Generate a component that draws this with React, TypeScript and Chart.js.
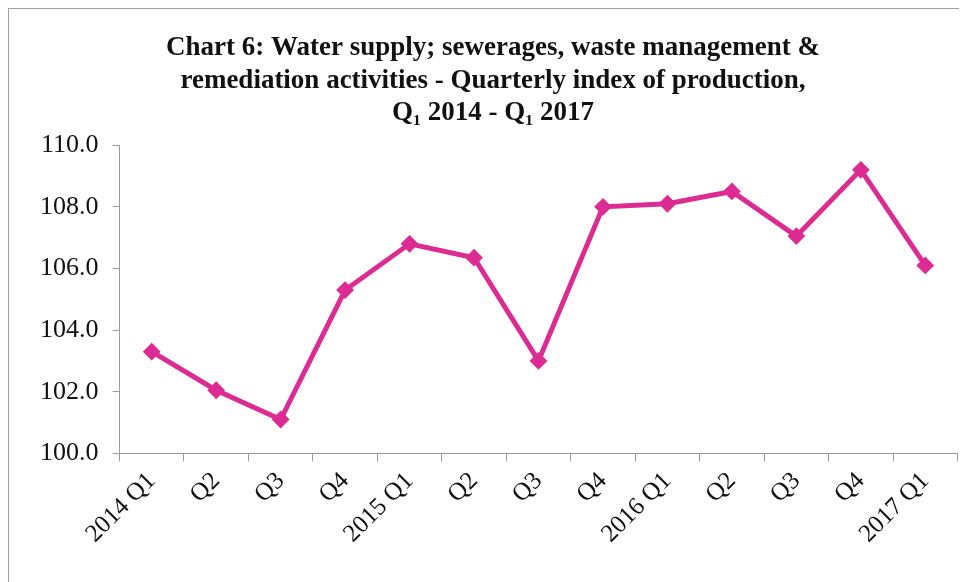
import React, { useEffect, useRef } from "react";
import { Chart, registerables } from "chart.js";

Chart.register(...registerables);

const categories = [
  "2014 Q1", "Q2", "Q3", "Q4",
  "2015 Q1", "Q2", "Q3", "Q4",
  "2016 Q1", "Q2", "Q3", "Q4",
  "2017 Q1",
];
const indexValues = [
  103.3, 102.05, 101.1, 105.3,
  106.8, 106.35, 103.0, 108.0,
  108.1, 108.5, 107.05, 109.2,
  106.1,
];
const yMin = 100;
const yMax = 110;
const yStep = 2;
const titleLines = [
  "Chart 6: Water supply; sewerages, waste management &",
  "remediation activities - Quarterly index of production,",
  "Q\u2081 2014 - Q\u2081 2017",
];

const LINE_COLOR = "#DC2C93";
const AXIS_COLOR = "#9a9a9a";
const SERIF = "'Liberation Serif', 'Times New Roman', serif";

export default function App() {
  const ref = useRef<HTMLCanvasElement | null>(null);

  useEffect(() => {
    document.documentElement.style.overflow = "hidden";
    document.body.style.overflow = "hidden";
    const canvas = ref.current;
    if (!canvas) return;
    const chart = new Chart(canvas, {
      type: "line",
      data: {
        labels: categories,
        datasets: [
          {
            label: "Index of production",
            data: indexValues,
            borderColor: LINE_COLOR,
            backgroundColor: LINE_COLOR,
            borderWidth: 5,
            pointStyle: "rectRot",
            pointRadius: 7.5,
            pointBorderWidth: 2,
            pointBackgroundColor: LINE_COLOR,
            pointBorderColor: LINE_COLOR,
            tension: 0,
            fill: false,
          },
        ],
      },
      options: {
        animation: false,
        responsive: true,
        maintainAspectRatio: false,
        layout: { padding: { left: 17, right: 7, top: 0, bottom: 28 } },
        plugins: {
          legend: { display: false },
          tooltip: { enabled: false },
          title: {
            display: true,
            text: titleLines,
            color: "#111",
            font: { family: SERIF, size: 27, weight: "bold", lineHeight: 1.2 },
            padding: { top: 23, bottom: 16 },
          },
        },
        scales: {
          x: {
            type: "category",
            offset: true,
            grid: {
              display: true,
              offset: true,
              drawOnChartArea: false,
              drawTicks: true,
              tickLength: 8,
              color: AXIS_COLOR,
            },
            border: { display: true, color: AXIS_COLOR, width: 1 },
            ticks: {
              autoSkip: false,
              minRotation: 45,
              maxRotation: 45,
              padding: 5,
              color: "#111",
              font: { family: SERIF, size: 25 },
            },
          },
          y: {
            min: yMin,
            max: yMax,
            grid: {
              display: true,
              drawOnChartArea: false,
              drawTicks: true,
              tickLength: 7,
              color: AXIS_COLOR,
            },
            border: { display: true, color: AXIS_COLOR, width: 1 },
            ticks: {
              stepSize: yStep,
              padding: 14,
              color: "#111",
              font: { family: SERIF, size: 26 },
              callback: (v) => Number(v).toFixed(1),
            },
          },
        },
      },
    });
    return () => chart.destroy();
  }, []);

  return (
    <div
      style={{
        width: 958,
        height: 573,
        borderLeft: "1px solid #a0a0a0",
        borderTop: "1px solid #a0a0a0",
        background: "#fff",
        position: "relative",
      }}
    >
      <canvas ref={ref} />
    </div>
  );
}
